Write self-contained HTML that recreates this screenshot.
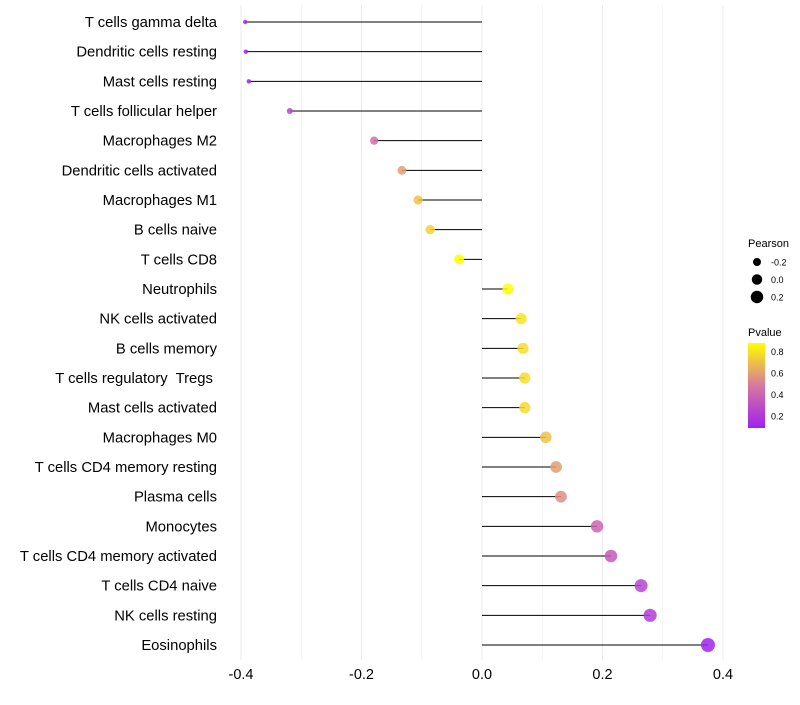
<!DOCTYPE html>
<html><head><meta charset="utf-8"><style>
body{margin:0;background:#fff;font-family:"Liberation Sans",sans-serif}
text{white-space:pre}
</style></head><body>
<svg id="c" width="800" height="700" xmlns="http://www.w3.org/2000/svg" font-family="Liberation Sans, sans-serif"></svg>
<script>
const categories=["T cells gamma delta","Dendritic cells resting","Mast cells resting","T cells follicular helper","Macrophages M2","Dendritic cells activated","Macrophages M1","B cells naive","T cells CD8","Neutrophils","NK cells activated","B cells memory","T cells regulatory  Tregs ","Mast cells activated","Macrophages M0","T cells CD4 memory resting","Plasma cells","Monocytes","T cells CD4 memory activated","T cells CD4 naive","NK cells resting","Eosinophils"];
const pearson=[-0.393,-0.392,-0.387,-0.319,-0.179,-0.133,-0.106,-0.086,-0.038,0.043,0.065,0.068,0.071,0.071,0.106,0.123,0.131,0.191,0.214,0.264,0.279,0.375];
const pvalue=[0.1,0.1,0.12,0.25,0.45,0.6,0.7,0.75,0.9,0.88,0.8,0.78,0.78,0.77,0.7,0.6,0.55,0.4,0.35,0.25,0.22,0.1];
const xTicks=[-0.4,-0.2,0,0.2,0.4];
const NS="http://www.w3.org/2000/svg";
const svg=document.getElementById('c');
const x=v=>482+v*602.5;
const y=i=>22+i*29.667;
const rr=v=>Math.sqrt(Math.max(3,9+57.5*(v+0.32)));
function col(p){const t=Math.max(0,Math.min(1,(p-0.09)/0.79));
 const a=[160,32,240],m=[215,120,160],b=[255,255,0];
 let c;if(t<0.5){const u=t/0.5;c=a.map((v,k)=>v+(m[k]-v)*u);}else{const u=(t-0.5)/0.5;c=m.map((v,k)=>v+(b[k]-v)*u);}
 return `rgb(${c.map(Math.round).join(',')})`;}
function mk(t,at){const e=document.createElementNS(NS,t);for(const k in at)e.setAttribute(k,at[k]);svg.appendChild(e);return e;}
for(let v=-0.4;v<=0.41;v+=0.1){const g=mk('line',{x1:x(v),x2:x(v),y1:5,y2:660,stroke:'#ebebeb','stroke-width':Math.abs(Math.round(v*10))%2===0?1:0.5});

}
xTicks.forEach(v=>{const t=mk('text',{x:x(v),y:679,'text-anchor':'middle','font-size':14.5,fill:'#000'});t.textContent=v===0?'0.0':v.toFixed(1);

});
categories.forEach((c,i)=>{
 const t=mk('text',{x:217,y:y(i)+5,'text-anchor':'end','font-size':14.8,fill:'#000'});t.textContent=c;
 
 
 const l=mk('line',{x1:x(0),x2:x(pearson[i]),y1:y(i),y2:y(i),stroke:'#000','stroke-width':1});
 
 
 const d=mk('circle',{cx:x(pearson[i]),cy:y(i),r:rr(pearson[i]),fill:col(pvalue[i]),'fill-opacity':0.85});
 
 
});
let t=mk('text',{x:748,y:247,'font-size':11});t.textContent='Pearson';


[-0.2,0,0.2].forEach((v,k)=>{const cy=262+k*17.5;
 const d=mk('circle',{cx:757,cy:cy,r:rr(v),fill:'#000'});
 
 
 const tt=mk('text',{x:771,y:cy+3.5,'font-size':9});tt.textContent=v===0?'0.0':v.toFixed(1);
 
 });
t=mk('text',{x:748,y:336,'font-size':11});t.textContent='Pvalue';


const defs=mk('defs',{});const lg=document.createElementNS(NS,'linearGradient');lg.setAttribute('id','g');lg.setAttribute('x1',0);lg.setAttribute('y1',1);lg.setAttribute('x2',0);lg.setAttribute('y2',0);
for(let k=0;k<=10;k++){const s=document.createElementNS(NS,'stop');s.setAttribute('offset',k/10);s.setAttribute('stop-color',col(0.09+0.79*k/10));lg.appendChild(s);}
defs.appendChild(lg);
const bar=mk('rect',{x:748,y:343,width:17,height:85,fill:'url(#g)'});


[0.2,0.4,0.6,0.8].forEach(p=>{const yy=428-(p-0.09)/0.79*85;
 const tt=mk('text',{x:771,y:yy+3.5,'font-size':9});tt.textContent=p.toFixed(1);
 
 });
</script>
</body></html>
